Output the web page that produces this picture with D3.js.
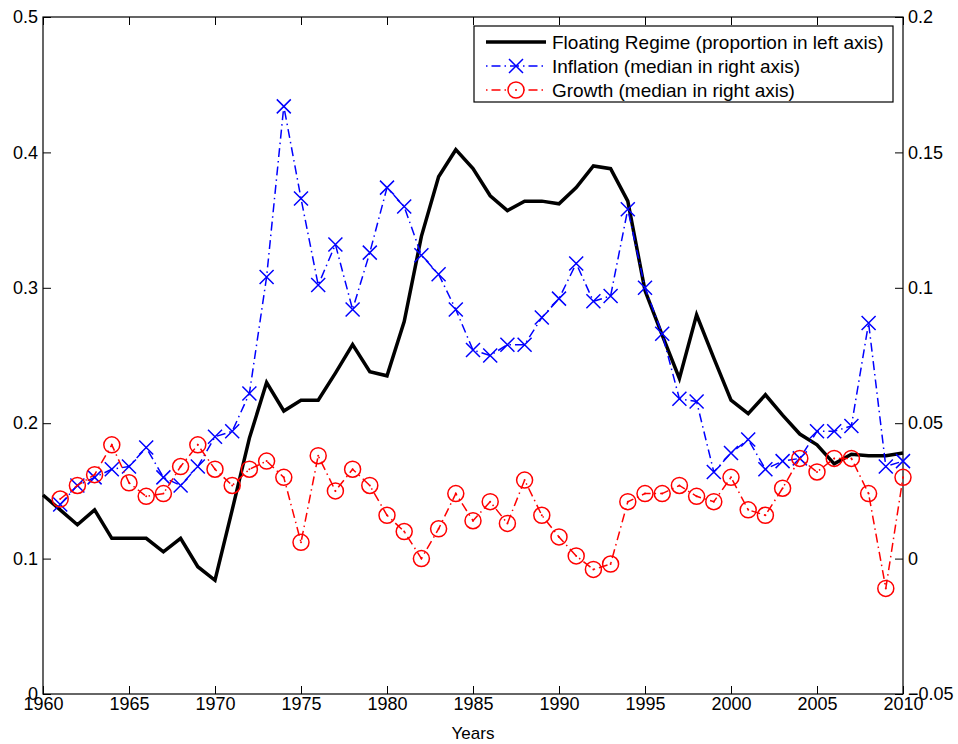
<!DOCTYPE html>
<html>
<head>
<meta charset="utf-8">
<script src="https://cdn.jsdelivr.net/npm/d3@7"></script>
<style>
  body { margin: 0; background: #fff; }
  svg text { font-family: "Liberation Sans", Arial, Helvetica, sans-serif; fill: #000; }
</style>
</head>
<body>
<div id="chart"></div>
<script>
// data
const years = d3.range(1960, 2011);
const floating = [
  0.147, 0.136, 0.125, 0.136, 0.115, 0.115, 0.115, 0.105, 0.115, 0.094,
  0.084, 0.136, 0.189, 0.230, 0.209, 0.217, 0.217, 0.237, 0.258, 0.238,
  0.235, 0.275, 0.338, 0.382, 0.402, 0.388, 0.368, 0.357, 0.364, 0.364,
  0.362, 0.374, 0.390, 0.388, 0.364, 0.298, 0.265, 0.233, 0.280, 0.248,
  0.217, 0.207, 0.221, 0.206, 0.192, 0.184, 0.170, 0.177, 0.176, 0.176,
  0.178
];
// inflation and growth start in 1961
const inflation = [
  0.020, 0.027, 0.030, 0.033, 0.034, 0.041, 0.030, 0.027, 0.034, 0.045,
  0.047, 0.061, 0.104, 0.167, 0.133, 0.101, 0.116, 0.092, 0.113, 0.137,
  0.130, 0.112, 0.105, 0.092, 0.077, 0.075, 0.079, 0.079, 0.089, 0.096,
  0.109, 0.095, 0.097, 0.129, 0.100, 0.083, 0.059, 0.058, 0.032, 0.039,
  0.044, 0.033, 0.036, 0.037, 0.047, 0.047, 0.049, 0.087, 0.034, 0.036
];
const growth = [
  0.022, 0.027, 0.031, 0.042, 0.028, 0.023, 0.024, 0.034, 0.042, 0.033,
  0.027, 0.033, 0.036, 0.030, 0.006, 0.038, 0.025, 0.033, 0.027, 0.016,
  0.010, 0.000, 0.011, 0.024, 0.014, 0.021, 0.013, 0.029, 0.016, 0.008,
  0.001, -0.004, -0.002, 0.021, 0.024, 0.024, 0.027, 0.023, 0.021, 0.030,
  0.018, 0.016, 0.026, 0.037, 0.032, 0.037, 0.037, 0.024, -0.011, 0.030
];
const xTicks = [1960, 1965, 1970, 1975, 1980, 1985, 1990, 1995, 2000, 2005, 2010];
const leftTicks = [0, 0.1, 0.2, 0.3, 0.4, 0.5];
const rightTicks = [-0.05, 0, 0.05, 0.1, 0.15, 0.2];
const legendLabels = [
  'Floating Regime (proportion in left axis)',
  'Inflation (median in right axis)',
  'Growth (median in right axis)'
];

// chart setup
const W = 958, H = 744;
const margin = { top: 17, right: 55, bottom: 50, left: 43 };
const width = W - margin.left - margin.right;
const height = H - margin.top - margin.bottom;

const x = d3.scaleLinear().domain([1960, 2010]).range([0, width]);
const yL = d3.scaleLinear().domain([0, 0.5]).range([height, 0]);
const yR = d3.scaleLinear().domain([-0.05, 0.2]).range([height, 0]);

const svg = d3.select('#chart').append('svg')
  .attr('width', W)
  .attr('height', H);
const group = svg.append('g')
  .attr('transform', `translate(${margin.left}, ${margin.top})`);

const floatData = years.map((yr, i) => ({ year: yr, value: floating[i] }));
const inflData = inflation.map((v, i) => ({ year: years[i + 1], value: v }));
const growData = growth.map((v, i) => ({ year: years[i + 1], value: v }));

const dashDot = '9,4,1.5,4';
const xMark = 'M-7,-7L7,7M-7,7L7,-7';

function drawAxes() {
  const fontSize = '18px';
  const tick = 8;

  group.append('g')
    .attr('transform', `translate(0, ${height})`)
    .call(d3.axisBottom(x).tickValues(xTicks).tickFormat(d3.format('d'))
      .tickSizeInner(-tick).tickSizeOuter(0).tickPadding(3))
    .call(g => g.select('.domain').remove())
    .call(g => g.selectAll('text').style('font-size', fontSize));

  group.append('g')
    .call(d3.axisTop(x).tickValues(xTicks).tickFormat('')
      .tickSizeInner(-tick).tickSizeOuter(0))
    .call(g => g.select('.domain').remove());

  group.append('g')
    .call(d3.axisLeft(yL).tickValues(leftTicks).tickFormat(d => d === 0 ? '0' : d3.format('.1f')(d))
      .tickSizeInner(-tick).tickSizeOuter(0).tickPadding(5))
    .call(g => g.select('.domain').remove())
    .call(g => g.selectAll('text').style('font-size', fontSize));

  group.append('g')
    .attr('transform', `translate(${width}, 0)`)
    .call(d3.axisRight(yR).tickValues(rightTicks).tickFormat(d => d === 0 ? '0' : String(+d.toFixed(2)).replace('-', '\u2212'))
      .tickSizeInner(-tick).tickSizeOuter(0).tickPadding(5))
    .call(g => g.select('.domain').remove())
    .call(g => g.selectAll('text').style('font-size', fontSize));

  group.selectAll('.tick line').attr('stroke', '#000').attr('stroke-width', 1);

  group.append('rect')
    .attr('width', width)
    .attr('height', height)
    .attr('fill', 'none')
    .attr('stroke', '#000')
    .attr('stroke-width', 1.2);

  svg.append('text')
    .attr('x', margin.left + width / 2)
    .attr('y', 739)
    .attr('text-anchor', 'middle')
    .style('font-size', '17px')
    .text('Years');
}

function drawLines() {
  const lineL = d3.line().x(d => x(d.year)).y(d => yL(d.value));
  const lineR = d3.line().x(d => x(d.year)).y(d => yR(d.value));

  group.append('path')
    .datum(floatData)
    .attr('fill', 'none')
    .attr('stroke', '#000')
    .attr('stroke-width', 3.5)
    .attr('stroke-linejoin', 'miter')
    .attr('d', lineL);

  group.append('path')
    .datum(inflData)
    .attr('fill', 'none')
    .attr('stroke', '#0000ff')
    .attr('stroke-width', 1.5)
    .attr('stroke-dasharray', dashDot)
    .attr('d', lineR);

  group.selectAll('.x-mark')
    .data(inflData)
    .enter().append('path')
    .attr('class', 'x-mark')
    .attr('transform', d => `translate(${x(d.year)}, ${yR(d.value)})`)
    .attr('d', xMark)
    .attr('fill', 'none')
    .attr('stroke', '#0000ff')
    .attr('stroke-width', 1.5);

  group.append('path')
    .datum(growData)
    .attr('fill', 'none')
    .attr('stroke', '#ff0000')
    .attr('stroke-width', 1.5)
    .attr('stroke-dasharray', dashDot)
    .attr('d', lineR);

  const circ = group.selectAll('.o-mark')
    .data(growData)
    .enter().append('g')
    .attr('class', 'o-mark')
    .attr('transform', d => `translate(${x(d.year)}, ${yR(d.value)})`);
  circ.append('circle')
    .attr('r', 8)
    .attr('fill', 'none')
    .attr('stroke', '#ff0000')
    .attr('stroke-width', 1.5);
  circ.append('circle')
    .attr('r', 1)
    .attr('fill', '#ff0000');
}

function drawLegend() {
  const lg = svg.append('g').attr('transform', 'translate(474, 26)');
  lg.append('rect')
    .attr('width', 419)
    .attr('height', 76)
    .attr('fill', '#fff')
    .attr('stroke', '#000')
    .attr('stroke-width', 1.2);

  const rows = [16, 40, 64];
  const colors = ['#000', '#0000ff', '#ff0000'];

  rows.forEach((ry, i) => {
    const line = lg.append('line')
      .attr('x1', 12).attr('x2', 72)
      .attr('y1', ry).attr('y2', ry)
      .attr('stroke', colors[i]);
    if (i === 0) {
      line.attr('stroke-width', 3.5);
    } else {
      line.attr('stroke-width', 1.5).attr('stroke-dasharray', '1.5,4,9,4');
    }
    if (i === 1) {
      lg.append('path')
        .attr('transform', `translate(42, ${ry})`)
        .attr('d', xMark)
        .attr('fill', 'none')
        .attr('stroke', colors[i])
        .attr('stroke-width', 1.5);
    }
    if (i === 2) {
      lg.append('circle')
        .attr('cx', 42).attr('cy', ry).attr('r', 8)
        .attr('fill', '#fff')
        .attr('stroke', colors[i])
        .attr('stroke-width', 1.5);
      lg.append('circle')
        .attr('cx', 42).attr('cy', ry).attr('r', 1)
        .attr('fill', colors[i]);
    }
    lg.append('text')
      .attr('x', 78)
      .attr('y', ry)
      .attr('dy', '0.35em')
      .style('font-size', '19px')
      .text(legendLabels[i]);
  });
}

drawAxes();
drawLines();
drawLegend();
</script>
</body>
</html>
